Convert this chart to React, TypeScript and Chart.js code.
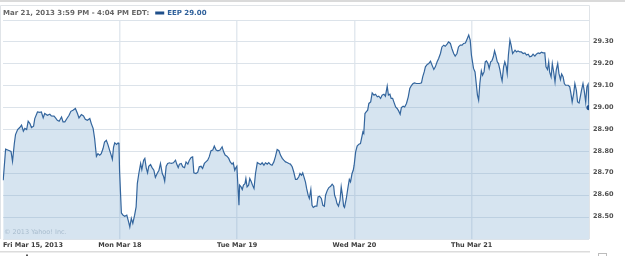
import React, { useEffect, useRef } from "react";
import { Chart, registerables } from "chart.js";

Chart.register(...registerables);

// ---- data ----
const SESSION_MINUTES = 390; // 9:30 - 16:00
const dayLabels = ["Fri Mar 15, 2013", "Mon Mar 18", "Tue Mar 19", "Wed Mar 20", "Thu Mar 21"];
const yTickValues = [28.5, 28.6, 28.7, 28.8, 28.9, 29.0, 29.1, 29.2, 29.3];
const yMin = 28.4;
const yMax = 29.4;
const headerText = "Mar 21, 2013 3:59 PM - 4:04 PM EDT:";
const legendText = "EEP 29.00";
const copyrightText = "© 2013 Yahoo! Inc.";

const friMinutes = [2, 10, 19, 28, 33, 39, 43, 50, 57, 63, 69, 74, 80, 85, 91, 96, 103, 107, 116, 124, 129, 135, 140, 149, 157, 162, 171, 176, 182, 188, 196, 201, 207, 214, 221, 227, 234, 242, 249, 254, 262, 269, 275, 282, 290, 295, 301, 306, 312, 317, 323, 328, 334, 339, 345, 350, 356, 361, 365, 369, 373, 379, 384, 387, 389];
const friPrices = [28.668, 28.81, 28.805, 28.8, 28.755, 28.836, 28.877, 28.9, 28.909, 28.92, 28.892, 28.905, 28.9, 28.938, 28.927, 28.909, 28.915, 28.95, 28.98, 28.978, 28.98, 28.953, 28.973, 28.965, 28.97, 28.962, 28.961, 28.953, 28.942, 28.938, 28.957, 28.935, 28.935, 28.95, 28.965, 28.983, 28.988, 28.996, 28.973, 28.953, 28.968, 28.962, 28.947, 28.942, 28.95, 28.927, 28.905, 28.859, 28.778, 28.79, 28.783, 28.79, 28.813, 28.843, 28.851, 28.832, 28.805, 28.783, 28.764, 28.82, 28.839, 28.832, 28.839, 28.832, 28.71];

const monMinutes = [5, 10, 16, 23, 29, 33, 38, 43, 49, 54, 58, 63, 69, 73, 79, 83, 88, 92, 96, 102, 107, 113, 118, 124, 130, 135, 141, 145, 149, 154, 159, 165, 171, 178, 185, 189, 194, 198, 204, 209, 215, 220, 226, 231, 237, 242, 246, 253, 259, 264, 270, 275, 281, 286, 292, 297, 303, 309, 314, 320, 326, 333, 340, 345, 350, 356, 362, 367, 373, 377, 382, 386, 389];
const monPrices = [28.519, 28.509, 28.504, 28.509, 28.478, 28.455, 28.494, 28.471, 28.509, 28.547, 28.653, 28.699, 28.745, 28.717, 28.76, 28.768, 28.722, 28.702, 28.732, 28.74, 28.726, 28.714, 28.681, 28.699, 28.714, 28.745, 28.699, 28.687, 28.664, 28.732, 28.745, 28.748, 28.745, 28.748, 28.76, 28.742, 28.726, 28.742, 28.745, 28.73, 28.726, 28.752, 28.742, 28.76, 28.772, 28.775, 28.702, 28.699, 28.705, 28.73, 28.732, 28.722, 28.745, 28.752, 28.76, 28.775, 28.803, 28.806, 28.824, 28.806, 28.803, 28.806, 28.821, 28.798, 28.783, 28.778, 28.768, 28.752, 28.742, 28.748, 28.714, 28.726, 28.732];

const tueMinutes = [6, 8, 13, 17, 21, 26, 29, 33, 38, 42, 47, 51, 56, 61, 67, 72, 78, 83, 89, 94, 100, 105, 111, 116, 122, 127, 133, 139, 144, 150, 155, 161, 166, 172, 177, 183, 188, 194, 199, 205, 209, 214, 218, 222, 227, 231, 236, 240, 245, 249, 253, 259, 265, 269, 274, 280, 285, 290, 294, 300, 305, 311, 316, 321, 324, 328, 332, 337, 342, 346, 350, 354, 357, 363, 368, 373, 377, 382, 386, 389];
const tuePrices = [28.554, 28.646, 28.638, 28.626, 28.646, 28.653, 28.676, 28.638, 28.646, 28.676, 28.661, 28.646, 28.631, 28.699, 28.749, 28.745, 28.74, 28.748, 28.737, 28.748, 28.742, 28.749, 28.74, 28.737, 28.752, 28.775, 28.809, 28.803, 28.783, 28.768, 28.76, 28.752, 28.749, 28.745, 28.742, 28.73, 28.707, 28.672, 28.672, 28.684, 28.699, 28.691, 28.702, 28.684, 28.661, 28.631, 28.6, 28.585, 28.626, 28.554, 28.544, 28.55, 28.55, 28.592, 28.595, 28.585, 28.554, 28.55, 28.6, 28.623, 28.635, 28.641, 28.65, 28.641, 28.6, 28.585, 28.562, 28.55, 28.577, 28.638, 28.6, 28.55, 28.544, 28.585, 28.631, 28.672, 28.661, 28.699, 28.714, 28.737];

const wedMinutes = [4, 9, 15, 20, 25, 28, 31, 35, 39, 44, 48, 54, 59, 65, 70, 76, 81, 87, 92, 98, 103, 109, 113, 118, 122, 127, 131, 137, 142, 147, 152, 156, 162, 167, 173, 179, 184, 190, 195, 200, 206, 212, 217, 223, 227, 232, 236, 242, 247, 253, 258, 264, 269, 275, 280, 286, 291, 297, 302, 308, 313, 319, 324, 330, 335, 341, 346, 352, 358, 363, 369, 374, 380, 385, 389];
const wedPrices = [28.798, 28.824, 28.833, 28.836, 28.869, 28.889, 28.882, 28.973, 28.98, 28.988, 29.019, 29.026, 29.067, 29.057, 29.061, 29.049, 29.052, 29.042, 29.057, 29.061, 29.052, 29.098, 29.057, 29.061, 29.042, 29.042, 29.026, 29.003, 28.996, 28.985, 28.97, 29.0, 29.006, 29.003, 29.019, 29.049, 29.087, 29.102, 29.11, 29.113, 29.11, 29.11, 29.11, 29.113, 29.14, 29.163, 29.186, 29.197, 29.201, 29.212, 29.194, 29.174, 29.186, 29.209, 29.224, 29.247, 29.277, 29.285, 29.28, 29.29, 29.3, 29.293, 29.27, 29.247, 29.235, 29.247, 29.277, 29.285, 29.285, 29.293, 29.295, 29.311, 29.331, 29.308, 29.24];

const thuMinutes = [6, 11, 15, 19, 23, 27, 32, 36, 41, 45, 49, 54, 58, 63, 67, 72, 76, 80, 85, 89, 94, 98, 101, 106, 110, 115, 118, 122, 127, 131, 136, 140, 144, 149, 154, 160, 165, 171, 177, 182, 188, 193, 199, 204, 210, 215, 221, 226, 232, 237, 243, 247, 252, 256, 259, 264, 268, 273, 277, 281, 286, 290, 295, 299, 304, 308, 312, 317, 321, 326, 330, 334, 339, 343, 348, 352, 357, 361, 365, 370, 374, 379, 383, 387, 390];
const thuPrices = [29.179, 29.163, 29.11, 29.057, 29.034, 29.11, 29.168, 29.148, 29.163, 29.209, 29.213, 29.201, 29.179, 29.209, 29.213, 29.232, 29.259, 29.24, 29.209, 29.201, 29.171, 29.14, 29.122, 29.186, 29.209, 29.186, 29.156, 29.24, 29.308, 29.285, 29.247, 29.254, 29.262, 29.254, 29.259, 29.254, 29.254, 29.247, 29.25, 29.24, 29.244, 29.232, 29.235, 29.244, 29.235, 29.244, 29.25, 29.247, 29.253, 29.25, 29.25, 29.186, 29.174, 29.209, 29.163, 29.14, 29.201, 29.158, 29.117, 29.171, 29.201, 29.156, 29.128, 29.153, 29.14, 29.11, 29.102, 29.102, 29.102, 29.095, 29.064, 29.026, 29.064, 29.11, 29.079, 29.026, 29.021, 29.049, 29.079, 29.11, 29.079, 29.026, 29.095, 29.107, 29.0];

const dayMinutes = [friMinutes, monMinutes, tueMinutes, wedMinutes, thuMinutes];
const dayPrices = [friPrices, monPrices, tuePrices, wedPrices, thuPrices];

// ---- styles ----
const FONT = "'DejaVu Sans', Verdana, sans-serif";
const LINE_COLOR = "#33659d";
const FILL_COLOR = "rgba(118,166,206,0.30)";

export default function App() {
  const canvasRef = useRef<HTMLCanvasElement | null>(null);

  useEffect(() => {
    const canvas = canvasRef.current;
    if (!canvas) return;

    const points = dayMinutes.flatMap((mins, d) =>
      mins.map((m, i) => ({ x: d * SESSION_MINUTES + m, y: dayPrices[d][i] }))
    );
    const lastIndex = points.length - 1;
    const totalMinutes = dayLabels.length * SESSION_MINUTES;
    const dayStarts = dayLabels.map((_, i) => i * SESSION_MINUTES);

    const decor = {
      id: "decor",
      beforeDraw(chart: any) {
        const ctx = chart.ctx;
        ctx.save();
        ctx.fillStyle = "#ffffff";
        ctx.fillRect(0, 0, chart.width, chart.height);
        ctx.restore();
      },
      afterDraw(chart: any) {
        const ctx = chart.ctx as CanvasRenderingContext2D;
        const a = chart.chartArea;
        const xs = chart.scales.x;
        const ys = chart.scales.y;
        ctx.save();

        // top strip line
        ctx.fillStyle = "#dadada";
        ctx.fillRect(0, 0, chart.width, 2);

        // frame
        ctx.strokeStyle = "#e0e4e8";
        ctx.lineWidth = 1;
        ctx.beginPath();
        ctx.moveTo(0.5, a.bottom);
        ctx.lineTo(0.5, 5.5);
        ctx.lineTo(Math.round(a.right) + 0.5, 5.5);
        ctx.lineTo(Math.round(a.right) + 0.5, a.bottom);
        ctx.stroke();

        // header
        ctx.textBaseline = "middle";
        ctx.textAlign = "left";
        ctx.font = `bold 7px ${FONT}`;
        ctx.fillStyle = "#666666";
        ctx.fillText(headerText, 3, 13);
        const hw = ctx.measureText(headerText).width;
        const sx = 3 + hw + 6;
        ctx.fillStyle = "#1f4f8a";
        ctx.fillRect(sx, 11.5, 9, 3);
        ctx.fillStyle = "#2d5f9a";
        ctx.fillText(legendText, sx + 12, 13);

        // copyright
        ctx.font = `6.5px ${FONT}`;
        ctx.fillStyle = "#a9bdce";
        ctx.fillText(copyrightText, 4, 232);

        // y labels
        ctx.font = `bold 6.5px ${FONT}`;
        ctx.fillStyle = "#505050";
        yTickValues.forEach((v) => {
          ctx.fillText(v.toFixed(2), a.right + 4, ys.getPixelForValue(v) - 0.5);
        });

        // x labels
        ctx.fillStyle = "#3c3c3c";
        dayLabels.forEach((lab, i) => {
          if (i === 0) {
            ctx.textAlign = "left";
            ctx.fillText(lab, 3, 245.7);
          } else {
            ctx.textAlign = "center";
            ctx.fillText(lab, xs.getPixelForValue(dayStarts[i]), 245.7);
          }
        });

        // bottom strip
        ctx.fillStyle = "#dcdcdc";
        ctx.fillRect(0, 251, Math.round(a.right) + 1, 1.5);
        ctx.strokeStyle = "#bcbcbc";
        ctx.strokeRect(598.5, 253.5, 8, 6);
        ctx.fillStyle = "#555555";
        ctx.fillRect(26, 254.5, 2, 1.5);

        ctx.restore();
      },
    };

    const chart = new Chart(canvas, {
      type: "line",
      data: {
        datasets: [
          {
            data: points,
            borderColor: LINE_COLOR,
            borderWidth: 1.2,
            backgroundColor: FILL_COLOR,
            fill: "start",
            tension: 0,
            pointRadius: (c: any) => (c.dataIndex === lastIndex ? 2.6 : 0),
            pointBackgroundColor: "#1d4e8b",
            pointBorderWidth: 0,
            pointHoverRadius: 0,
          },
        ],
      },
      options: {
        responsive: false,
        animation: false,
        events: [],
        layout: { padding: { left: 1, right: 36, top: 20, bottom: 17 } },
        plugins: { legend: { display: false }, tooltip: { enabled: false } },
        scales: {
          x: {
            type: "linear",
            min: 0,
            max: totalMinutes,
            z: 1,
            ticks: { display: false },
            grid: { drawTicks: false, color: "#e3e9ef", lineWidth: 1.5 },
            border: { display: false },
            afterBuildTicks: (s: any) => {
              s.ticks = dayStarts.slice(1).map((v) => ({ value: v }));
            },
          },
          y: {
            type: "linear",
            min: yMin,
            max: yMax,
            ticks: { display: false, stepSize: 0.1 },
            grid: { drawTicks: false, color: "#dce3ea", lineWidth: 1 },
            border: { display: false },
          },
        },
      } as any,
      plugins: [decor],
    });

    return () => chart.destroy();
  }, []);

  return (
    <div style={{ position: "fixed", left: 0, top: 0, width: 625, height: 256 }}>
      <canvas ref={canvasRef} width={625} height={256} style={{ display: "block", width: 625, height: 256 }} />
    </div>
  );
}
